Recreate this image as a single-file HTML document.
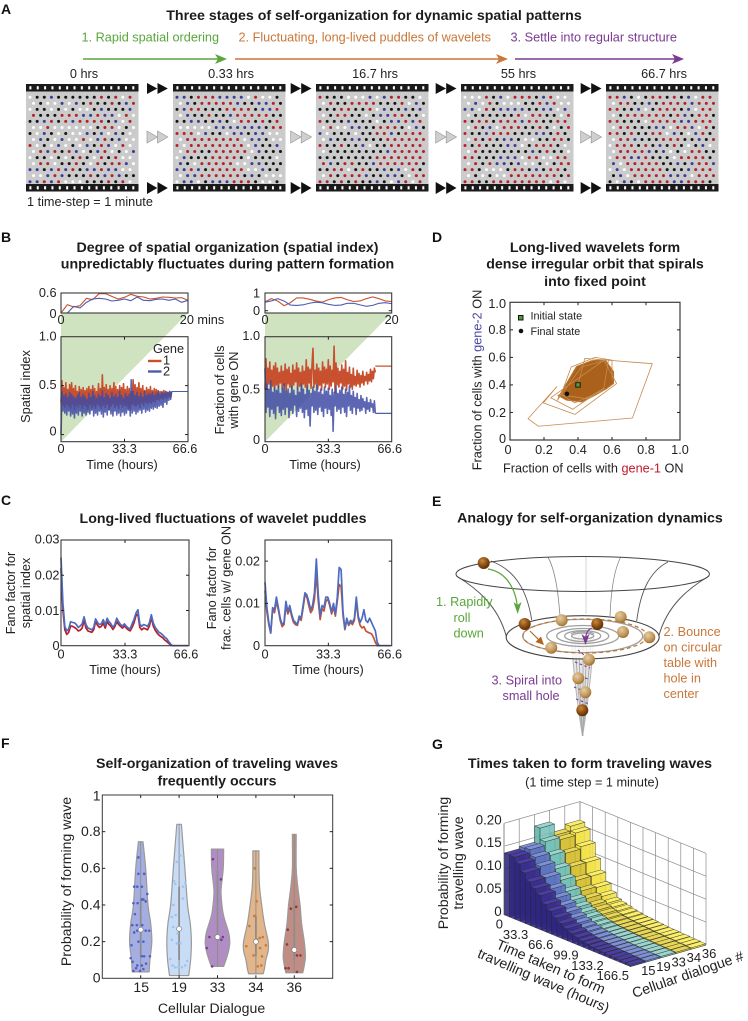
<!DOCTYPE html>
<html lang="en">
<head>
<meta charset="utf-8">
<title>Three stages of self-organization for dynamic spatial patterns</title>
<style>
html,body{margin:0;padding:0;background:#fff;}
svg{display:block;}
text{font-family:"Liberation Sans",sans-serif;font-size:12.7px;fill:#222;}
.t{font-weight:bold;font-size:14.2px;fill:#1c1c1c;text-anchor:middle;}
.p{font-weight:bold;font-size:14px;fill:#111;}
.m{text-anchor:middle;}
.s{font-size:12.7px;}
.big{font-size:14.1px;}
</style>
</head>
<body>
<svg id="figure" width="748" height="1021" viewBox="0 0 748 1021" xmlns="http://www.w3.org/2000/svg">
<defs>
<radialGradient id="ball-light" cx=".38" cy=".32" r=".75"><stop offset="0" stop-color="#e6cda3"/><stop offset=".6" stop-color="#c29a5e"/><stop offset="1" stop-color="#94672c"/></radialGradient>
<radialGradient id="ball-dark" cx=".38" cy=".32" r=".75"><stop offset="0" stop-color="#c98a3a"/><stop offset=".55" stop-color="#8a4c12"/><stop offset="1" stop-color="#4e2805"/></radialGradient>
</defs>
<rect width="748" height="1021" fill="#fff"/>

<!-- Panel A -->
<text class="p" x="1" y="14">A</text>
<text class="t" x="374" y="20">Three stages of self-organization for dynamic spatial patterns</text>
<text x="81.5" y="41.5" style="fill:#5aa63c">1. Rapid spatial ordering</text>
<text x="238.5" y="41.5" style="fill:#c9773a">2. Fluctuating, long-lived puddles of wavelets</text>
<text x="510.5" y="41.5" style="fill:#7b3a92">3. Settle into regular structure</text>
<g><line x1="83" y1="59" x2="220" y2="59" stroke="#5aa63c" stroke-width="1.4"/><polygon points="227,59 215,54 218,59 215,64" fill="#5aa63c"/></g>
<g><line x1="235" y1="59" x2="501" y2="59" stroke="#c9773a" stroke-width="1.4"/><polygon points="508,59 496,54 499,59 496,64" fill="#c9773a"/></g>
<g><line x1="515" y1="59" x2="677" y2="59" stroke="#7b3a92" stroke-width="1.4"/><polygon points="684,59 672,54 675,59 672,64" fill="#7b3a92"/></g>
<text class="m s" x="84" y="78">0 hrs</text>
<text class="m s" x="231" y="78">0.33 hrs</text>
<text class="m s" x="375" y="78">16.7 hrs</text>
<text class="m s" x="518.5" y="78">55 hrs</text>
<text class="m s" x="664" y="78">66.7 hrs</text>
<g id="frames"></g>
<text x="27" y="206">1 time-step = 1 minute</text>

<!-- Panel B -->
<text class="p" x="1" y="242">B</text>
<text class="t" x="227.5" y="252">Degree of spatial organization (spatial index)</text>
<text class="t" x="227.5" y="268.5">unpredictably fluctuates during pattern formation</text>
<polygon points="61,313 188,313 61,441.7" fill="#cfe3c0"/>
<polygon points="265,313 391.7,313 265,441.7" fill="#cfe3c0"/>
<g id="panel-b"></g>
<text class="m" x="122" y="469">Time (hours)</text>
<text class="m" transform="translate(30,386.5) rotate(-90)">Spatial index</text>
<text x="153" y="353">Gene</text>
<line x1="148" x2="161.5" y1="361" y2="361" stroke="#c8502f" stroke-width="2.4"/>
<text x="163" y="364.5">1</text>
<line x1="148" x2="161.5" y1="371.5" y2="371.5" stroke="#4d5cb0" stroke-width="2.4"/>
<text x="163" y="375.5">2</text>
<text class="m" x="325" y="469">Time (hours)</text>
<text class="m" transform="translate(224,390) rotate(-90)">Fraction of cells</text>
<text class="m" transform="translate(238,390) rotate(-90)">with gene ON</text>

<!-- Panel D -->
<text class="p" x="432" y="242">D</text>
<text class="t" x="595" y="252">Long-lived wavelets form</text>
<text class="t" x="595" y="268.5">dense irregular orbit that spirals</text>
<text class="t" x="595" y="286">into fixed point</text>
<g id="panel-d"></g>
<text x="530.5" y="319.5" style="font-size:10.8px">Initial state</text>
<text x="530.5" y="335" style="font-size:10.8px">Final state</text>
<rect x="518.5" y="315.5" width="4.5" height="4.5" fill="#4f9e3a" stroke="#111" stroke-width="1"/>
<circle cx="521" cy="331" r="2.3" fill="#111"/>
<text x="503" y="472.5">Fraction of cells with <tspan style="fill:#c0182c">gene-1</tspan> ON</text>
<text class="m" transform="translate(481.5,380) rotate(-90)">Fraction of cells with <tspan style="fill:#4a4aa5">gene-2</tspan> ON</text>

<!-- Panel C -->
<text class="p" x="1" y="505">C</text>
<text class="t" x="223" y="523">Long-lived fluctuations of wavelet puddles</text>
<g id="panel-c"></g>
<text class="m" x="125" y="674">Time (hours)</text>
<text class="m" transform="translate(15,593) rotate(-90)">Fano factor for</text>
<text class="m" transform="translate(30,593) rotate(-90)">spatial index</text>
<text class="m" x="328" y="674">Time (hours)</text>
<text class="m" transform="translate(216,588) rotate(-90)">Fano factor for</text>
<text class="m" transform="translate(230.5,588) rotate(-90)">frac. cells w/ gene ON</text>

<!-- Panel E -->
<text class="p" x="432" y="506">E</text>
<text class="t" x="590" y="522.5">Analogy for self-organization dynamics</text>
<g fill="none">
<path d="M571,633 C573,670 578,710 582.5,736 C587,710 592,670 594,633 Z" fill="#dcdcdc" fill-opacity=".7" stroke="#b4b4b4"/>
<path d="M575,634 C576,670 580,710 582.5,736 M579,634 C579,670 581,710 582.5,736 M583,634 V736 M587,634 C586,670 584,710 582.5,736 M591,634 C590,670 585,710 582.5,736" stroke="#a8a8a8" stroke-width=".9"/>
<path d="M491,561 C515,570 527,590 531.7,620" stroke="#555" stroke-width=".9"/>
<path d="M548,557 C555,570 558,590 560,616" stroke="#888" stroke-width=".8"/>
<path d="M586,557 V614" stroke="#ccc" stroke-width=".8"/>
<path d="M620.7,557 C614,570 611,590 610,616" stroke="#888" stroke-width=".8"/>
<path d="M668,562 C648,572 640,595 636.7,621" stroke="#555" stroke-width=".9"/>
<path d="M456.5,576 C476,588 498,605 506.5,637" stroke="#555" stroke-width="1"/>
<path d="M709,576 C689,588 667,605 658.5,637" stroke="#555" stroke-width="1"/>
<ellipse cx="582.7" cy="574" rx="126.7" ry="17.5" stroke="#444" stroke-width="1"/>
<ellipse cx="582.7" cy="637.3" rx="76.5" ry="21.6" stroke="#444" stroke-width="1.1" fill="#fff" fill-opacity=".8"/>
<ellipse cx="582.7" cy="636" rx="60" ry="16.6" stroke="#a0a0a0" stroke-width="1.3"/>
<ellipse cx="582.7" cy="636" rx="36" ry="10.5" stroke="#a0a0a0" stroke-width="1.3"/>
<ellipse cx="582.7" cy="636" rx="26" ry="7.5" stroke="#a0a0a0" stroke-width="1.3"/>
<ellipse cx="582.7" cy="636" rx="18" ry="5.4" stroke="#a0a0a0" stroke-width="1.3"/>
<ellipse cx="582.7" cy="636" rx="11" ry="3" stroke="#a0a0a0" stroke-width="1.3"/>
<path d="M571,634 C574,631 591,631 594,634" stroke="#999" stroke-width="1"/>
<ellipse cx="585" cy="636" rx="62" ry="17" stroke="#c0702a" stroke-width="1.2" stroke-dasharray="4 3"/>
<path d="M578,650 L589,659 M575,662 L590,668 M576,674 L588,679 M574,687 L586,692 M576,699 L589,704" stroke="#7b3a92" stroke-width="1.1" stroke-dasharray="2.5 2.5"/>
<path d="M488,569 C507,572 516,590 517.5,608" stroke="#5aa63c" stroke-width="1.2"/>
<polygon points="517.7,614 513.5,602 517.5,605 521.5,602" fill="#5aa63c"/>
<path d="M530,631 L541,642" stroke="#b3651f" stroke-width="1.1"/>
<polygon points="544,645 535.5,642 541,636.5" fill="#b3651f"/>
<path d="M591.7,628 C587,630 585.5,634 585.5,640" stroke="#7b3a92" stroke-width="1.2"/>
<polygon points="585.5,645 581.5,634 585.5,637 589.5,634" fill="#7b3a92"/>
<circle cx="483.7" cy="563" r="6" fill="url(#ball-dark)"/>
<circle cx="524.7" cy="624" r="6" fill="url(#ball-dark)"/>
<circle cx="561.7" cy="620.3" r="6" fill="url(#ball-light)"/>
<circle cx="597.3" cy="624" r="6" fill="url(#ball-dark)"/>
<circle cx="620.7" cy="617" r="6" fill="url(#ball-light)"/>
<circle cx="623" cy="632" r="6" fill="url(#ball-light)"/>
<circle cx="649.3" cy="637.3" r="6" fill="url(#ball-light)"/>
<circle cx="551.3" cy="647.7" r="6" fill="url(#ball-light)"/>
<circle cx="589" cy="659.7" r="6" fill="url(#ball-light)"/>
<circle cx="578.3" cy="678.3" r="6" fill="url(#ball-light)"/>
<circle cx="585.3" cy="692.3" r="6" fill="url(#ball-light)"/>
<circle cx="582.3" cy="710.3" r="6" fill="url(#ball-dark)"/>
</g>
<g style="fill:#5aa63c">
<text x="436" y="606" style="fill:#5aa63c">1. Rapidly</text>
<text x="453.5" y="622" style="fill:#5aa63c">roll</text>
<text x="453.5" y="637.5" style="fill:#5aa63c">down</text>
</g>
<g>
<text x="663.5" y="636" style="fill:#c9773a">2. Bounce</text>
<text x="663.5" y="651.5" style="fill:#c9773a">on circular</text>
<text x="663.5" y="667" style="fill:#c9773a">table with</text>
<text x="663.5" y="682.5" style="fill:#c9773a">hole in</text>
<text x="663.5" y="698" style="fill:#c9773a">center</text>
</g>
<g>
<text x="491.5" y="684.5" style="fill:#7b3a92">3. Spiral into</text>
<text x="502.5" y="700" style="fill:#7b3a92">small hole</text>
</g>

<!-- Panel F -->
<text class="p" x="1" y="748">F</text>
<text class="t" x="217" y="768">Self-organization of traveling waves</text>
<text class="t" x="217" y="785.5">frequently occurs</text>
<g id="panel-f"></g>
<text class="m big" x="211.5" y="1013">Cellular Dialogue</text>
<text class="m big" transform="translate(71,881.5) rotate(-90)">Probability of forming wave</text>

<!-- Panel G -->
<text class="p" x="432" y="749">G</text>
<text class="t" x="590" y="768">Times taken to form traveling waves</text>
<text class="m" x="592" y="786.5">(1 time step = 1 minute)</text>
<g id="panel-g"></g>
<text class="m big" transform="translate(448,863) rotate(-90)">Probability of forming</text>
<text class="m big" transform="translate(463,863) rotate(-90)">travelling wave</text>
<text class="m big" transform="translate(549,971) rotate(23.3)">Time taken to form</text>
<text class="m big" transform="translate(541.7,985) rotate(23.3)">travelling wave (hours)</text>
<text class="m big" transform="translate(689.3,979) rotate(-19)">Cellular dialogue #</text>
</svg>

<script>
// ---------- Panel A data: cell states per frame (k black, r red, b blue, w white) ----------
const frame0Rows=["wkkbkkkkkkrkrwr","wkwwbwbkrkkrkbr","wkkwkwkwwkbkkkb","rkkkrrrbbrbbwrw","kkbrkrbrrrrkbwr","wwrwwwwwwkrrwkw","kwbkwkwwbkbwbkw","wbkwbwwrwbrkbww","rwkwbwkwbkrbwrw","wrbrkrbwkbrwkwb","wkkwkwkrkwrkrww","wrrwkkrkwrkrrbw","bbkbrbrkbbrbbww","wwbrbkkkrkbrbkk","bbrbrwwwkkkrkrw"];
const frame1Rows=["bbkrrrbbbbwrwwk","wbkrrrrrbkkbbrk","kbrrkkkrrrrkbbr","wbkkrkkbrrrrrkk","kkbbkkbkwrrkrkr","wwwwwbbbbbbbkrr","rrrwbkkwbbkbbww","wrrrrrrrrwbbkww","rwrrrrrrrrwbkkb","wrrkkrrrrrwbkkk","wbkkkrrrrkwkkkw","bkwrrrrrwwbbkkk","bbrbkrrrrrwwbkk","wbbrrrrrrkbkwww","wbbwkbbbrrrkwwk"];
const frame2Rows=["rkkkwwwbwbrrkkw","wrkkrrrrkkkrwbk","kkkrrkkrwbkkbkb","wkrrkkwkbbrrkkw","rkkkbkkkwkbbrbr","wrwwbbkkrrrkwbk","bwkkkwkkrrbkrrr","wbkkbbkkkrrrrrr","rkkrkkbwkkrrrrr","wkkkkkkkkbrrrrr","kkkkkkkkrrrrrrr","rbkrrkkbrrrrrrk","kkrrwkrkkbkbwrk","wrkrrrbkkbbkwrr","rrkrkrkkbkwbrwr"];
const frame3Rows=["wwwrkbwrrrkbrww","wbwrkwwwkkrbrww","bbwrkbbbbkkbbwb","wkkkkkkrwrrkkwr","rkrrkrrrbrrkkrr","wrkbwrrrkkrkwkr","rkkbrrrkkkbbkrk","wrkrkbbkwwkkrrk","rkrkkkbbwkrrrkw","wrkkkkkkkbkrkkw","rrkkkbbbwrrwwrr","wrkrbbkbwwkwkrr","rrkwwwkrrkbkrrk","wkwkwwrrrrrrrkr","rrkkrrrrrrrrwrw"];
const frame4Rows=["rrbkwkrrkrkbwrr","wrrkkbkrrrrbrrr","rrkkbwkrrrkbwrr","wkrrrrrrkrbkrrk","rrkkkwrrrrbbrrr","wrrkkkbbwrrbwrk","rrkrkkrrwbkwbrk","wrrbkkkrrrkkbkr","wrrrkrkbkrkwkbw","wrrrrbkbwkwrrkk","wrrbbrkkkwrrrrk","bwrrrrrkkbkbrrb","wbwrrrrrkkkbrrr","kbwrrrrrbbbwrrr","kwbkwrrrrbbrrrk"];
const frameLists=[frame0Rows,frame1Rows,frame2Rows,frame3Rows,frame4Rows];
const frameNames=['0-hrs','0-33-hrs','16-7-hrs','55-hrs','66-7-hrs'];

// ---------- Panel B data ----------
const insetMinutes=[0,1,2,3,4,5,6,7,8,9,10,11,12,13,14,15,16,17,18,19,20];
const insetIndexGene1=[0,.25,.18,.22,.44,.4,.58,.58,.5,.42,.47,.56,.5,.48,.42,.44,.48,.47,.45,.46,.38];
const insetIndexGene2=[0,0,.2,.15,.32,.42,.44,.42,.36,.38,.42,.37,.48,.38,.37,.41,.42,.38,.42,.32,.38];
const insetFractionGene1=[.5,.68,.55,.28,.45,.72,.72,.65,.55,.48,.62,.72,.75,.62,.52,.55,.68,.78,.68,.55,.52];
const insetFractionGene2=[.48,.55,.68,.55,.32,.3,.33,.42,.48,.45,.36,.3,.32,.42,.42,.33,.25,.3,.42,.45,.4];
const activeHours=58;
const totalHours=66.6;
const spatialGene1=[.33,.55,.30,.48,.28,.53,.31,.46,.29,.51,.27,.53,.31,.47,.26,.50,.30,.44,.28,.49,.31,.46,.27,.48,.30,.45,.29,.47,.26,.49,.31,.46,.28,.50,.30,.47,.27,.44,.31,.52,.29,.47,.27,.61,.30,.48,.28,.51,.31,.46,.26,.50,.29,.47,.31,.53,.28,.49,.30,.46,.27,.50,.31,.48,.28,.52,.30,.46,.29,.49,.27,.47,.25,.44,.31,.56,.30,.51,.29,.48,.31,.53,.28,.47,.32,.50,.30,.45,.33,.48,.31,.46,.33,.49,.32,.45,.34,.47,.33,.46,.36,.45,.35,.44,.37,.44,.36,.45,.38,.44,.37,.43,.39,.44,.38,.44];
const spatialGene2=[0,.44,.24,.40,.22,.42,.20,.38,.24,.43,.19,.41,.21,.39,.17,.37,.22,.40,.20,.43,.24,.38,.19,.41,.22,.39,.20,.36,.23,.42,.21,.38,.25,.44,.19,.40,.22,.37,.20,.41,.24,.39,.21,.45,.18,.38,.23,.42,.20,.40,.25,.37,.21,.43,.19,.39,.24,.41,.20,.38,.22,.44,.19,.40,.23,.37,.20,.42,.22,.39,.25,.41,.19,.56,.22,.44,.24,.40,.21,.43,.23,.39,.25,.42,.22,.38,.26,.44,.23,.40,.25,.42,.24,.41,.27,.43,.26,.40,.28,.42,.27,.44,.29,.41,.30,.43,.28,.42,.33,.44,.31,.43,.35,.44,.36,.44];
const spatialFlat=[.44,.44];
const fractionGene1=[.50,.79,.52,.70,.55,.76,.50,.68,.53,.72,.49,.75,.54,.70,.51,.66,.56,.72,.50,.67,.53,.74,.48,.69,.55,.71,.52,.65,.50,.73,.54,.68,.57,.75,.50,.70,.53,.66,.49,.72,.55,.67,.52,.78,.48,.71,.56,.69,.51,.73,.89,.52,.68,.55,.74,.50,.70,.54,.67,.49,.76,.56,.71,.52,.69,.55,.78,.50,.72,.53,.68,.57,.91,.47,.75,.54,.70,.52,.67,.56,.73,.50,.69,.53,.77,.49,.66,.55,.71,.52,.64,.50,.70,.54,.62,.53,.68,.55,.65,.52,.63,.56,.67,.54,.62,.58,.66,.55,.64,.58,.69,.57,.67,.60,.70,.66];
const fractionGene2=[.70,.28,.55,.33,.50,.24,.58,.31,.47,.27,.52,.22,.49,.34,.53,.28,.46,.25,.51,.31,.55,.26,.48,.33,.50,.23,.46,.30,.53,.27,.49,.35,.44,.24,.52,.29,.47,.32,.55,.28,.50,.23,.45,.31,.53,.25,.49,.15,.46,.34,.52,.28,.48,.30,.54,.26,.47,.33,.50,.29,.45,.24,.52,.32,.48,.27,.51,.31,.44,.25,.50,.10,.47,.34,.53,.29,.46,.31,.49,.27,.52,.33,.45,.28,.50,.24,.47,.34,.53,.30,.44,.27,.48,.33,.42,.26,.46,.32,.40,.29,.44,.30,.41,.33,.38,.27,.42,.31,.37,.29,.40,.33,.36,.28,.39,.27];
const fractionFlatGene1=[.72,.72];
const fractionFlatGene2=[.27,.27];

// ---------- Panel C data (one value per hour, then zero to the end) ----------
const fanoSpatialBlue=[.025,.012,.0055,.0042,.0048,.0068,.0066,.0065,.006,.0052,.0056,.0062,.0082,.006,.005,.0048,.0045,.0052,.0076,.0066,.006,.0062,.0074,.0058,.0078,.0068,.0062,.0052,.006,.0078,.0068,.006,.0056,.0062,.0055,.005,.0048,.0062,.0075,.0092,.0102,.0062,.0055,.006,.0058,.0055,.0065,.0088,.0065,.0052,.0045,.0038,.0035,.003,.0024,.002,.0012,.0005,0,0,0,0,0,0,0,0,0];
const fanoSpatialRed=[.022,.01,.0045,.0032,.0038,.0056,.0055,.0052,.0048,.0042,.0044,.005,.0072,.005,.0042,.004,.0038,.0045,.0068,.0058,.0052,.0055,.0064,.005,.0068,.006,.0055,.0046,.0054,.0068,.006,.0055,.005,.0056,.005,.0045,.0042,.0052,.0065,.0085,.009,.0052,.0045,.005,.0048,.0045,.0056,.008,.0056,.0044,.0036,.003,.0026,.0022,.0016,.0012,.0007,.0002,0,0,0,0,0,0,0,0,0];
const fanoFractionBlue=[.015,.009,.0055,.003,.009,.0085,.0115,.009,.0065,.005,.0055,.0105,.008,.0095,.0075,.006,.0055,.005,.007,.0065,.0095,.0125,.012,.0105,.0085,.0095,.0125,.0205,.012,.007,.0095,.009,.0115,.0115,.01,.008,.01,.0075,.0115,.0185,.018,.008,.004,.0065,.005,.006,.0055,.0065,.0115,.007,.0055,.0065,.0085,.006,.0055,.0065,.0055,.0045,.0035,.0008,0,0,0,0,0,0,0];
const fanoFractionRed=[.013,.008,.005,.003,.0085,.0078,.0105,.0085,.006,.0045,.005,.0095,.0075,.0088,.007,.0055,.005,.0048,.0065,.006,.0088,.012,.0115,.0095,.0078,.0085,.011,.0172,.0105,.0062,.0088,.0082,.0105,.011,.0095,.0075,.0092,.007,.0105,.0145,.014,.0072,.0038,.006,.0048,.0055,.005,.006,.0105,.0065,.0048,.0042,.0045,.0035,.0032,.003,.0028,.002,.0008,0,0,0,0,0,0,0,0];

// ---------- Panel D data ----------
const orbitHullX=[.294,.392,.480,.559,.608,.608,.569,.500,.422,.333,.284];
const orbitHullY=[.327,.533,.574,.581,.496,.412,.375,.327,.278,.291,.324];
const orbitX=[.40,.44,.837,.72,.167,.106,.275,.196,.382,.627,.553,.24,.369,.55,.45,.29,.28,.42,.58,.55,.38,.30,.36,.50,.60,.60];
const orbitY=[.40,.593,.554,.16,.10,.155,.387,.27,.186,.41,.58,.307,.223,.375,.30,.33,.29,.53,.585,.36,.27,.33,.53,.60,.58,.44];
const initialState=[.40,.40];
const finalState=[.335,.335];

// ---------- Panel F data ----------
const dialogues=['15','19','33','34','36'];
const violinColors=['#a5aee0','#c8dcf5','#b08ec4','#e2b58a','#c08d84'];
const pointColors=['#5060c8','#9cc5f0','#7a3b8f','#c87a3a','#8c3a38'];
const violinLevels15=[.745,.6,.4,.3,.2,.1,.035];
const violinWidths15=[.06,.13,.19,.26,.29,.24,.22];
const violinLevels19=[.84,.6,.4,.3,.2,.1,.015];
const violinWidths19=[.06,.15,.22,.29,.32,.3,.25];
const violinLevels33=[.705,.6,.5,.45,.35,.25,.2,.15,.1,.065];
const violinWidths33=[.16,.15,.1,.095,.15,.29,.32,.29,.22,.16];
const violinLevels34=[.695,.6,.5,.4,.3,.2,.15,.1,.05,.025];
const violinWidths34=[.08,.08,.095,.15,.22,.32,.32,.26,.22,.19];
const violinLevels36=[.785,.6,.5,.4,.3,.2,.12,.07,.03];
const violinWidths36=[.05,.05,.09,.15,.19,.26,.29,.26,.22];
const violinLevelLists=[violinLevels15,violinLevels19,violinLevels33,violinLevels34,violinLevels36];
const violinWidthLists=[violinWidths15,violinWidths19,violinWidths33,violinWidths34,violinWidths36];
const violinMedians=[.265,.27,.225,.2,.155];
const violinIqrLow=[.12,.1,.2,.12,.1];
const violinIqrHigh=[.43,.5,.59,.34,.42];
const points15=[[-.06,.66],[-.17,.5],[-.09,.5],[.03,.5],[.17,.46],[.09,.57],[-.19,.41],[.03,.43],[.07,.43],[.13,.42],[-.08,.41],[-.15,.35],[-.22,.29],[-.1,.29],[.04,.29],[.13,.26],[.22,.26],[-.09,.26],[-.17,.25],[-.24,.18],[-.06,.2],[.07,.2],[.09,.12],[.24,.12],[-.26,.11],[-.21,.09],[.03,.12],[.14,.08],[-.09,.07],[.03,.07],[-.12,.055],[.07,.05],[-.19,.04],[-.02,.04],[-.06,.57]];
const points19=[[.03,.67],[-.06,.635],[-.13,.53],[-.1,.515],[.1,.5],[.16,.52],[-.15,.4],[.1,.435],[-.19,.335],[-.09,.345],[-.15,.28],[-.04,.245],[-.19,.21],[.03,.19],[-.06,.19],[-.23,.105],[.21,.095],[-.17,.07],[-.1,.06],[-.02,.06],[.07,.06],[.16,.07]];
const points33=[[-.12,.65],[.09,.54],[-.21,.225],[.14,.225],[.1,.21],[-.28,.165],[-.14,.065]];
const points34=[[-.03,.6],[.02,.42],[-.04,.34],[-.17,.285],[.18,.225],[.1,.22],[.03,.21],[.26,.18],[.11,.165],[-.25,.175],[-.06,.125],[.16,.12],[.14,.07],[.05,.065]];
const points36=[[.05,.39],[-.09,.38],[-.17,.265],[-.19,.185],[.07,.125],[.16,.125],[-.23,.055],[-.15,.055],[.07,.035]];
const pointLists=[points15,points19,points33,points34,points36];

// ---------- Panel G data: probability per time bin for each dialogue ----------
const barsDialogue15=[.135,.135,.125,.11,.095,.085,.075,.06,.05,.04,.032,.026,.02,.016,.013,.011,.009,.008,.007,.006,.005,.005,.004,.003];
const barsDialogue19=[.14,.142,.13,.115,.095,.075,.06,.048,.038,.03,.024,.019,.016,.013,.011,.009,.008,.007,.006,.005,.005,.004,.004,.003];
const barsDialogue33=[.175,.15,.125,.10,.08,.06,.045,.035,.028,.022,.018,.015,.012,.01,.009,.008,.007,.006,.005,.005,.004,.004,.003,.003];
const barsDialogue34=[.15,.145,.12,.095,.07,.052,.04,.03,.024,.02,.016,.013,.011,.01,.009,.008,.007,.006,.006,.005,.005,.004,.004,.003];
const barsDialogue36=[.16,.15,.125,.095,.07,.05,.035,.025,.021,.018,.015,.013,.011,.01,.009,.008,.007,.006,.006,.005,.005,.004,.004,.003];
const barRows=[barsDialogue15,barsDialogue19,barsDialogue33,barsDialogue34,barsDialogue36];
const barTopColors=['#4a3f9e','#7d90d4','#9ad4cc','#e8d755','#fbef6a'];
const barLeftColors=['#2e2580','#4d63b8','#5fb3ab','#c4b02c','#eedc33'];
const barRightColors=['#3a2f8f','#5e74c4','#74c2ba','#d6c23a','#f2e24a'];
const barTimeTicks=['0','33.3','66.6','99.9','133.2','166.5'];
const barZTicks=[0,.05,.1,.15,.2];
const barZLabels=['0','0.05','0.10','0.15','0.20'];

// ---------- helpers ----------
const NS='http://www.w3.org/2000/svg';
function mk(tag,attrs,parent){
  const el=document.createElementNS(NS,tag);
  for(const k in attrs){el.setAttribute(k,attrs[k]);}
  if(parent){parent.appendChild(el);}
  return el;
}
function scale(d0,d1,r0,r1){return v=>r0+(v-d0)/(d1-d0)*(r1-r0);}
function pathOf(xs,ys){return xs.map((x,i)=>(i?'L':'M')+x.toFixed(2)+' '+ys[i].toFixed(2)).join('');}
function smoothSegments(p){
  let s='';
  for(let i=0;i<p.length-1;i++){
    const p0=p[Math.max(i-1,0)],p1=p[i],p2=p[i+1],p3=p[Math.min(i+2,p.length-1)];
    s+='C'+(p1[0]+(p2[0]-p0[0])/6).toFixed(2)+' '+(p1[1]+(p2[1]-p0[1])/6).toFixed(2)+' '+(p2[0]-(p3[0]-p1[0])/6).toFixed(2)+' '+(p2[1]-(p3[1]-p1[1])/6).toFixed(2)+' '+p2[0].toFixed(2)+' '+p2[1].toFixed(2);
  }
  return s;
}

function axes(parent,o){
  const box=mk('rect',{x:o.x0,y:o.y0,width:o.x1-o.x0,height:o.y1-o.y0,fill:'none',stroke:'#3a3a3a','stroke-width':o.sw||1.1},parent);
  
  
  (o.xTicks||[]).forEach((v,i)=>{
    const px=o.xs(v);
    if(px>o.x0+.5&&px<o.x1-.5){
      const t1=mk('line',{x1:px,x2:px,y1:o.y1,y2:o.y1-3,stroke:'#222','stroke-width':1},parent);
      
      
      const t2=mk('line',{x1:px,x2:px,y1:o.y0,y2:o.y0+3,stroke:'#222','stroke-width':1},parent);
      
      
    }
    const lab=o.xLabels&&o.xLabels[i];
    if(lab!==undefined&&lab!==''){
      const tx=mk('text',{x:px+((o.xShift&&o.xShift[lab])||0),y:o.xBase,'text-anchor':o.xAnchor&&o.xAnchor[lab]||'middle'},parent);
      tx.textContent=lab;
      if(o.fs){tx.style.fontSize=o.fs+'px';}
      
      
    }
  });
  (o.yTicks||[]).forEach((v,i)=>{
    const py=o.ys(v);
    if(py>o.y0+.5&&py<o.y1-.5){
      const t1=mk('line',{x1:o.x0,x2:o.x0+3,y1:py,y2:py,stroke:'#222','stroke-width':1},parent);
      
      
      const t2=mk('line',{x1:o.x1,x2:o.x1-3,y1:py,y2:py,stroke:'#222','stroke-width':1},parent);
      
      
    }
    const lab=o.yLabels&&o.yLabels[i];
    if(lab!==undefined&&lab!==''){
      const tx=mk('text',{x:o.yRight,y:py+4.3+((o.yShift&&o.yShift[lab])||0),'text-anchor':'end'},parent);
      tx.textContent=lab;
      if(o.fs){tx.style.fontSize=o.fs+'px';}
      
      
    }
  });
}
function series(parent,times,vals,xs,ys,color,width,name,opacity){
  const p=mk('path',{d:pathOf(times.map(xs),vals.map(ys)),fill:'none',stroke:color,'stroke-width':width,'stroke-linejoin':'round','stroke-opacity':opacity||1},parent);
  
  
  return p;
}
function denseTimes(vals){return vals.map((v,i)=>activeHours*i/(vals.length-1));}

// ---------- Panel A ----------
(function(){
  const g=document.getElementById('frames');
  const frameX=[26,173,316,461,606];
  const gapX=[147,290.7,435.7,580.7];
  const colorOf={k:'#141414',r:'#b5202a',b:'#3a3a9a',w:'#ffffff'};
  const spacingX=scale(0,14,4,104);
  const spacingY=scale(0,14,97.3,181.7);
  frameLists.forEach((rows,fi)=>{
    const fr=mk('g',{transform:'translate('+frameX[fi]+',0)'},g);
    
    
    const bg=mk('rect',{x:0,y:91,width:112.5,height:94,fill:'#cbcbcb'},fr);
    
    
    [84,184].forEach(y=>{
      const strip=mk('rect',{x:0,y:y,width:112.5,height:7.5,fill:'#1a1a1a'},fr);
      
      
      for(let i=0;i<15;i++){
        const hole=mk('rect',{x:3.4+i*7.35,y:y+2.2,width:2,height:3.2,fill:'#fff'},fr);
        
        
      }
    });
    rows.forEach((row,r)=>{
      row.split('').forEach((ch,c)=>{
        const dot=mk('circle',{cx:spacingX(c)+(r%2?3.47:0),cy:spacingY(r),r:1.5,fill:colorOf[ch]},fr);
        
        
      });
    });
  });
  gapX.forEach(x=>{
    [[83,94,'#111','none'],[182,194,'#111','none'],[131,143,'#cfcfcf','#9a9a9a']].forEach(s=>{
      [0,10.5].forEach(dx=>{
        const tri=mk('polygon',{points:(x+dx)+','+s[0]+' '+(x+dx+10.3)+','+((s[0]+s[1])/2)+' '+(x+dx)+','+s[1],fill:s[2],stroke:s[3],'stroke-width':.7},g);
        
        
      });
    });
  });
})();

// ---------- Panel B ----------
(function(){
  const g=document.getElementById('panel-b');
  const red='#c8502f',blue='#4d5cb0',navy='#3f4ba5';
  // left inset
  let xs=scale(0,20,61,188),ys=scale(0,.6,313,293);
  let bg=mk('rect',{x:61,y:293,width:127,height:20,fill:'#fff'},g);
  
  
  series(g,insetMinutes,insetIndexGene1,xs,ys,red,1.1,'spatial-inset-gene-1');
  series(g,insetMinutes,insetIndexGene2,xs,ys,blue,1.1,'spatial-inset-gene-2');
  axes(g,{name:'spatial-inset',x0:61,x1:188,y0:293,y1:313,xs,ys,xTicks:[0,20],xLabels:['0','20 mins'],xBase:324,xShift:{'20 mins':14},yTicks:[0,.6],yLabels:['0','0.6'],yRight:56.5,yShift:{'0':.5,'0.6':-.5}});
  // left main
  xs=scale(0,66.6,61,188);ys=scale(-.073,1,441.7,336.7);
  const spatialEnd=[activeHours,totalHours];
  series(g,denseTimes(spatialGene1),spatialGene1,xs,ys,red,1.6,'spatial-index-gene-1');
  series(g,denseTimes(spatialGene2),spatialGene2,xs,ys,navy,1.6,'spatial-index-gene-2',.85);
  series(g,spatialEnd,spatialFlat,xs,ys,'#4d5cb0',1.1,'spatial-index-settled');
  axes(g,{name:'spatial-index',x0:61,x1:188,y0:336.7,y1:441.7,xs,ys,xTicks:[0,33.3,66.6],xLabels:['0','33.3','66.6'],xBase:453,xShift:{'66.6':-3},yTicks:[0,.5,1],yLabels:['0','0.5','1.0'],yRight:56.5,yShift:{'0':-3.5,'1.0':-.5,'0.5':-1}});
  // right inset
  xs=scale(0,20,265,391.7);ys=scale(-.13,1,313,293);
  bg=mk('rect',{x:265,y:293,width:126.7,height:20,fill:'#fff'},g);
  
  
  series(g,insetMinutes,insetFractionGene1,xs,ys,red,1.1,'fraction-inset-gene-1');
  series(g,insetMinutes,insetFractionGene2,xs,ys,blue,1.1,'fraction-inset-gene-2');
  axes(g,{name:'fraction-inset',x0:265,x1:391.7,y0:293,y1:313,xs,ys,xTicks:[0,20],xLabels:['0','20'],xBase:324,yTicks:[0,1],yLabels:['0','1'],yRight:260});
  // right main
  xs=scale(0,66.6,265,391.7);ys=scale(0,1,441.7,336.7);
  series(g,denseTimes(fractionGene1),fractionGene1,xs,ys,red,1.6,'fraction-gene-1');
  series(g,[activeHours,totalHours],fractionFlatGene1,xs,ys,red,1.2,'fraction-gene-1-settled');
  series(g,denseTimes(fractionGene2),fractionGene2,xs,ys,navy,1.6,'fraction-gene-2',.85);
  series(g,[activeHours,totalHours],fractionFlatGene2,xs,ys,blue,1.2,'fraction-gene-2-settled');
  axes(g,{name:'fraction',x0:265,x1:391.7,y0:336.7,y1:441.7,xs,ys,xTicks:[0,33.3,66.6],xLabels:['0','33.3','66.6'],xBase:453,xShift:{'66.6':-2},yTicks:[0,.5,1],yLabels:['0','0.5','1.0'],yRight:260,yShift:{'0':-2,'1.0':-1}});
})();

// ---------- Panel C ----------
(function(){
  const g=document.getElementById('panel-c');
  const hours=a=>a.map((v,i)=>i);
  let xs=scale(0,66.6,61,189),ys=scale(0,.03,645.7,540);
  series(g,hours(fanoSpatialRed),fanoSpatialRed,xs,ys,'#b5202a',1.7,'fano-spatial-gene-1');
  series(g,hours(fanoSpatialBlue),fanoSpatialBlue,xs,ys,'#4d6cc0',1.7,'fano-spatial-gene-2');
  axes(g,{name:'fano-spatial',x0:61,x1:189,y0:540,y1:645.7,xs,ys,xTicks:[0,33.3,66.6],xLabels:['0','33.3','66.6'],xBase:658.7,xShift:{'66.6':-3},yTicks:[0,.01,.02,.03],yLabels:['0','0.01','0.02','0.03'],yRight:59.5,yShift:{'0.03':-1}});
  xs=scale(0,66.6,265,391.7);ys=scale(0,.025,645.7,540);
  series(g,hours(fanoFractionRed),fanoFractionRed,xs,ys,'#c8502f',1.7,'fano-fraction-gene-1');
  series(g,hours(fanoFractionBlue),fanoFractionBlue,xs,ys,'#4d6cc0',1.7,'fano-fraction-gene-2');
  axes(g,{name:'fano-fraction',x0:265,x1:391.7,y0:540,y1:645.7,xs,ys,xTicks:[0,33.3,66.6],xLabels:['0','33.3','66.6'],xBase:658.7,xShift:{'66.6':-2},yTicks:[0,.01,.02],yLabels:['0','0.01','0.02'],yRight:260});
})();

// ---------- Panel D ----------
(function(){
  const g=document.getElementById('panel-d');
  const xs=scale(0,1,510,680),ys=scale(0,1,440,302.3);
  const hull=mk('path',{d:pathOf(orbitHullX.map(xs),orbitHullY.map(ys))+'Z',fill:'#a9611b',stroke:'#b5722f','stroke-width':1.4,'stroke-linejoin':'round'},g);
  
  
  const line=mk('path',{d:pathOf(orbitX.map(xs),orbitY.map(ys)),fill:'none',stroke:'#c78a4e','stroke-width':.8,'stroke-linejoin':'round'},g);
  
  
  const init=mk('rect',{x:xs(initialState[0])-2.2,y:ys(initialState[1])-2.2,width:4.4,height:4.4,fill:'#4f9e3a',stroke:'#111','stroke-width':.9},g);
  
  
  const fin=mk('circle',{cx:xs(finalState[0]),cy:ys(finalState[1]),r:2.3,fill:'#111'},g);
  
  
  axes(g,{name:'orbit',x0:510,x1:680,y0:302.3,y1:440,xs,ys,sw:1.2,xTicks:[0,.2,.4,.6,.8,1],xLabels:['0','0.2','0.4','0.6','0.8','1.0'],xBase:454,xShift:{'0':-2},yTicks:[0,.2,.4,.6,.8,1],yLabels:['0','0.2','0.4','0.6','0.8','1.0'],yRight:506,yShift:{'0':-1.5,'1.0':1.3}});
})();

// ---------- Panel F ----------
(function(){
  const g=document.getElementById('panel-f');
  const xs=scale(0,6,102.3,332.7),ys=scale(0,1,978.3,795);
  dialogues.forEach((d,i)=>{
    const c=i+1;
    const lv=violinLevelLists[i],w=violinWidthLists[i];
    const left=lv.map((v,k)=>[xs(c-w[k]),ys(v)]),right=lv.map((v,k)=>[xs(c+w[k]),ys(v)]).reverse();
    const dStr='M'+left[0][0].toFixed(2)+' '+left[0][1].toFixed(2)+smoothSegments(left)+'L'+right[0][0].toFixed(2)+' '+right[0][1].toFixed(2)+smoothSegments(right)+'Z';
    const body=mk('path',{d:dStr,fill:violinColors[i],stroke:'#9a9a9a','stroke-width':1.2,'stroke-linejoin':'round'},g);
    
    
    const whisk=mk('line',{x1:xs(c),x2:xs(c),y1:ys(lv[0]),y2:ys(lv[lv.length-1]),stroke:'#8d8d8d','stroke-width':.9},g);
    
    
    const iqr=mk('line',{x1:xs(c),x2:xs(c),y1:ys(violinIqrHigh[i]),y2:ys(violinIqrLow[i]),stroke:'#8d8d8d','stroke-width':1.8},g);
    
    
    pointLists[i].forEach(p=>{
      const dot=mk('circle',{cx:xs(c+p[0]),cy:ys(p[1]),r:1.3,fill:pointColors[i]},g);
      
      
    });
    const med=mk('circle',{cx:xs(c),cy:ys(violinMedians[i]),r:2.5,fill:'#fff',stroke:'#777','stroke-width':.6},g);
    
    
  });
  axes(g,{name:'violin',x0:102.3,x1:332.7,y0:795,y1:978.3,xs,ys,sw:1,fs:14,xTicks:[1,2,3,4,5],xLabels:dialogues,xBase:992,xShift:{'15':.5},yTicks:[0,.2,.4,.6,.8,1],yLabels:['0','0.2','0.4','0.6','0.8','1'],yRight:100.5,yShift:{'1':1}});
})();

// ---------- Panel G ----------
(function(){
  const g=document.getElementById('panel-g');
  const timeX=scale(0,1,0,126),timeY=scale(0,1,0,51.7);
  const diagX=scale(0,1,0,76),diagY=scale(0,1,0,-21.7);
  const zY=scale(0,.2,0,-91.7);
  function proj(t,d,z){return [504+timeX(t)+diagX(d),915+timeY(t)+diagY(d)+zY(z)];}
  function pts(list){return list.map(p=>p[0].toFixed(2)+','+p[1].toFixed(2)).join(' ');}
  function seg(a,b,color,w,name){
    const l=mk('line',{x1:a[0],y1:a[1],x2:b[0],y2:b[1],stroke:color,'stroke-width':w},g);
    
    
  }
  // walls
  barZTicks.forEach(z=>{
    seg(proj(0,0,z),proj(0,1,z),'#8a8a8a',.7,'left-wall-gridline');
    seg(proj(0,1,z),proj(1,1,z),'#8a8a8a',.7,'back-wall-gridline');
  });
  for(let i=0;i<=10;i++){
    seg(proj(i/10,1,0),proj(i/10,1,.2),'#8a8a8a',.7,'back-wall-vertical-gridline');
  }
  for(let i=0;i<=5;i++){
    seg(proj(0,i/5,0),proj(0,i/5,.2),i?'#8a8a8a':'#b5b5b5',i?.7:1.6,'left-wall-vertical-gridline');
  }
  seg(proj(1,0,0),proj(1,1,0),'#777',.7,'floor-edge');
  // bars, far rows first
  for(let r=barRows.length-1;r>=0;r--){
    const row=barRows[r];
    const d0=r/5+.005,d1=(r+1)/5-.005;
    row.forEach((h,b)=>{
      const t0=b/row.length,t1=(b+1)/row.length;
      const bar=mk('g',{},g);
      
      
      const left=mk('polygon',{points:pts([proj(t0,d0,0),proj(t1,d0,0),proj(t1,d0,h),proj(t0,d0,h)]),fill:barLeftColors[r],stroke:'#2a2a2a','stroke-width':.4,'fill-opacity':.88},bar);
      
      
      const right=mk('polygon',{points:pts([proj(t1,d0,0),proj(t1,d1,0),proj(t1,d1,h),proj(t1,d0,h)]),fill:barRightColors[r],stroke:'#2a2a2a','stroke-width':.4,'fill-opacity':.88},bar);
      
      
      const top=mk('polygon',{points:pts([proj(t0,d0,h),proj(t1,d0,h),proj(t1,d1,h),proj(t0,d1,h)]),fill:barTopColors[r],stroke:'#2a2a2a','stroke-width':.4},bar);
      
      
    });
  }
  // z labels
  barZTicks.forEach((z,i)=>{
    const p=proj(0,0,z);
    const tx=mk('text',{x:501.7,y:p[1]+1,'text-anchor':'end'},g);
    tx.textContent=barZLabels[i];
    tx.style.fontSize='13.4px';
    
    
  });
  // time labels
  barTimeTicks.forEach((lab,i)=>{
    const p=proj(i/5,0,0);
    const tx=mk('text',{x:p[0]-1,y:p[1]+13.5,'text-anchor':'end'},g);
    tx.textContent=lab;
    tx.style.fontSize='13px';
    
    
  });
  // dialogue labels
  dialogues.forEach((lab,i)=>{
    const p=proj(1,(i+.5)/5,0);
    const tx=mk('text',{x:p[0]+10.7,y:p[1]+10.7,'text-anchor':'middle'},g);
    tx.textContent=lab;
    tx.style.fontSize='13px';
    
    
  });
})();
</script>
</body>
</html>
